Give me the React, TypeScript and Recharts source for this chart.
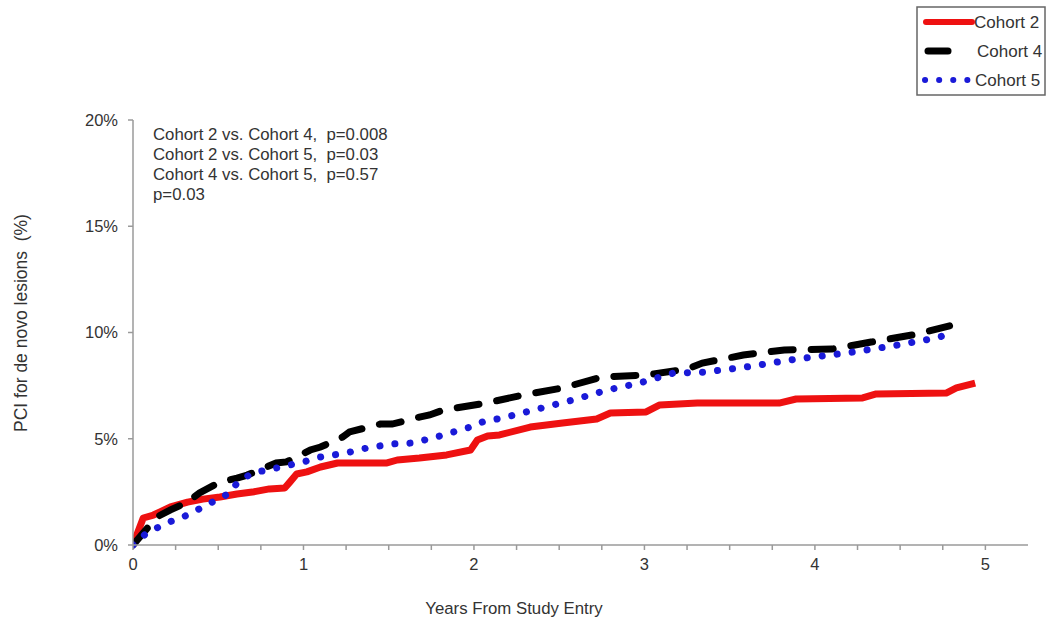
import React from 'react'
import { Line, LineChart, XAxis, YAxis } from 'recharts'

// years from study entry / cumulative % PCI
const cohort2Years = [0, 0.06, 0.12, 0.22, 0.32, 0.41, 0.51, 0.61, 0.7, 0.8, 0.89, 0.92, 0.96, 1.02, 1.1, 1.2, 1.49, 1.55, 1.68, 1.84, 1.98, 2.02, 2.08, 2.15, 2.33, 2.52, 2.72, 2.8, 3.01, 3.09, 3.31, 3.79, 3.89, 4.28, 4.36, 4.77, 4.83, 4.94]
const cohort2Pct = [0, 1.27, 1.41, 1.79, 2.02, 2.16, 2.26, 2.4, 2.49, 2.64, 2.68, 2.96, 3.34, 3.44, 3.67, 3.86, 3.86, 4.0, 4.09, 4.24, 4.47, 4.94, 5.13, 5.18, 5.55, 5.74, 5.93, 6.21, 6.26, 6.59, 6.68, 6.68, 6.87, 6.92, 7.11, 7.15, 7.39, 7.62]

const cohort4Years = [0, 0.04, 0.14, 0.22, 0.32, 0.39, 0.51, 0.61, 0.67, 0.84, 0.9, 1.04, 1.1, 1.23, 1.27, 1.45, 1.52, 1.68, 1.74, 1.82, 2.07, 2.29, 2.52, 2.75, 3.01, 3.25, 3.34, 3.58, 3.82, 4.1, 4.33, 4.57, 4.79]
const cohort4Pct = [0, 0.38, 1.32, 1.65, 2.02, 2.45, 2.96, 3.15, 3.29, 3.86, 3.91, 4.47, 4.61, 5.08, 5.32, 5.69, 5.69, 6.02, 6.12, 6.35, 6.68, 7.06, 7.39, 7.91, 8.0, 8.28, 8.56, 8.94, 9.18, 9.22, 9.55, 9.88, 10.31]

const cohort5Years = [0, 0.08, 0.2, 0.32, 0.41, 0.51, 0.57, 0.61, 0.7, 0.84, 1.0, 1.1, 1.25, 1.37, 1.51, 1.64, 1.78, 1.86, 1.98, 2.05, 2.19, 2.4, 2.6, 2.78, 2.97, 3.17, 3.36, 3.6, 3.89, 4.19, 4.45, 4.71, 4.77]
const cohort5Pct = [0, 0.56, 1.04, 1.41, 1.79, 2.21, 2.45, 2.92, 3.39, 3.62, 3.91, 4.14, 4.33, 4.56, 4.75, 4.8, 5.08, 5.27, 5.55, 5.79, 6.02, 6.45, 6.87, 7.29, 7.62, 8.09, 8.14, 8.38, 8.75, 9.04, 9.36, 9.74, 9.88]

const xTicks = [0, 0.25, 0.5, 0.75, 1, 1.25, 1.5, 1.75, 2, 2.25, 2.5, 2.75, 3, 3.25, 3.5, 3.75, 4, 4.25, 4.5, 4.75, 5]
const yTicks = [0, 5, 10, 15, 20]

const pValueLines = [
  'Cohort 2 vs. Cohort 4,  p=0.008',
  'Cohort 2 vs. Cohort 5,  p=0.03',
  'Cohort 4 vs. Cohort 5,  p=0.57',
  'p=0.03',
]

const toPoints = (xs: number[], ys: number[]) => xs.map((x, i) => ({ x, y: ys[i] }))

const FONT = '"Liberation Sans", Arial, sans-serif'
const AXIS_GREY = '#9a9a9a'
const TEXT = '#333'

function ChartLegend() {
  return (
    <svg
      width={130}
      height={90}
      style={{ position: 'absolute', left: 916, top: 6, fontFamily: FONT }}
    >
      <rect x={1} y={1} width={128} height={88} fill="#fff" stroke="#666" strokeWidth={1.5} />
      <line x1={10} y1={16} x2={56} y2={16} stroke="#ee1111" strokeWidth={6} strokeLinecap="round" />
      <text x={58} y={22} fontSize={17} fill={TEXT}>Cohort 2</text>
      <line x1={12} y1={45} x2={32} y2={45} stroke="#000" strokeWidth={7} strokeLinecap="round" />
      <text x={61} y={51} fontSize={17} fill={TEXT}>Cohort 4</text>
      <line x1={9} y1={74} x2={52} y2={74} stroke="#1a1ad8" strokeWidth={6} strokeLinecap="round" strokeDasharray="0.1 14" />
      <text x={59} y={80} fontSize={17} fill={TEXT}>Cohort 5</text>
    </svg>
  )
}

export default function App() {
  const tickStyle = { fill: TEXT, fontSize: 16.5, fontFamily: FONT }
  return (
    <div style={{ position: 'absolute', left: 0, top: 0, width: 1050, height: 625, background: '#fff' }}>
      <LineChart
        width={1050}
        height={625}
        margin={{ top: 120, right: 22, bottom: 50, left: 73 }}
      >
        <XAxis
          type="number"
          dataKey="x"
          domain={[0, 5.25]}
          ticks={xTicks}
          interval={0}
          tickFormatter={(v: number) => (Number.isInteger(v) ? String(v) : '')}
          axisLine={{ stroke: AXIS_GREY, strokeWidth: 1.5 }}
          tickLine={{ stroke: AXIS_GREY, strokeWidth: 1.5 }}
          tickSize={5}
          tickMargin={8}
          tick={tickStyle}
          allowDataOverflow
        />
        <YAxis
          type="number"
          domain={[0, 20]}
          ticks={yTicks}
          interval={0}
          width={60}
          tickFormatter={(v: number) => `${v}%`}
          axisLine={{ stroke: AXIS_GREY, strokeWidth: 1.5 }}
          tickLine={{ stroke: AXIS_GREY, strokeWidth: 1.5 }}
          tickSize={5}
          tickMargin={10}
          tick={tickStyle}
        />
        <Line
          data={toPoints(cohort2Years, cohort2Pct)}
          dataKey="y"
          type="linear"
          stroke="#ee1111"
          strokeWidth={7}
          strokeLinejoin="round"
          dot={false}
          activeDot={false}
          isAnimationActive={false}
        />
        <Line
          data={toPoints(cohort4Years, cohort4Pct)}
          dataKey="y"
          type="linear"
          stroke="#000"
          strokeWidth={7}
          strokeLinecap="round"
          strokeDasharray="22 18"
          dot={false}
          activeDot={false}
          isAnimationActive={false}
        />
        <Line
          data={toPoints(cohort5Years, cohort5Pct)}
          dataKey="y"
          type="linear"
          stroke="#1a1ad8"
          strokeWidth={7}
          strokeLinecap="round"
          strokeDasharray="0.1 15"
          dot={false}
          activeDot={false}
          isAnimationActive={false}
        />
      </LineChart>

      <div
        style={{
          position: 'absolute',
          left: 153,
          top: 125,
          fontFamily: FONT,
          fontSize: 16.8,
          lineHeight: '20px',
          color: TEXT,
          whiteSpace: 'pre',
        }}
      >
        {pValueLines.map((line) => (
          <div key={line}>{line}</div>
        ))}
      </div>

      <svg width={1050} height={625} style={{ position: 'absolute', left: 0, top: 0, pointerEvents: 'none' }}>
        <text
          x={0}
          y={0}
          transform="translate(27 323) rotate(-90)"
          textAnchor="middle"
          fontFamily={FONT}
          fontSize={17.5}
          fill={TEXT}
          style={{ whiteSpace: 'pre' }}
        >
          PCI for de novo lesions  (%)
        </text>
        <text x={514} y={614} textAnchor="middle" fontFamily={FONT} fontSize={16.8} fill={TEXT}>
          Years From Study Entry
        </text>
      </svg>

      <ChartLegend />
    </div>
  )
}
